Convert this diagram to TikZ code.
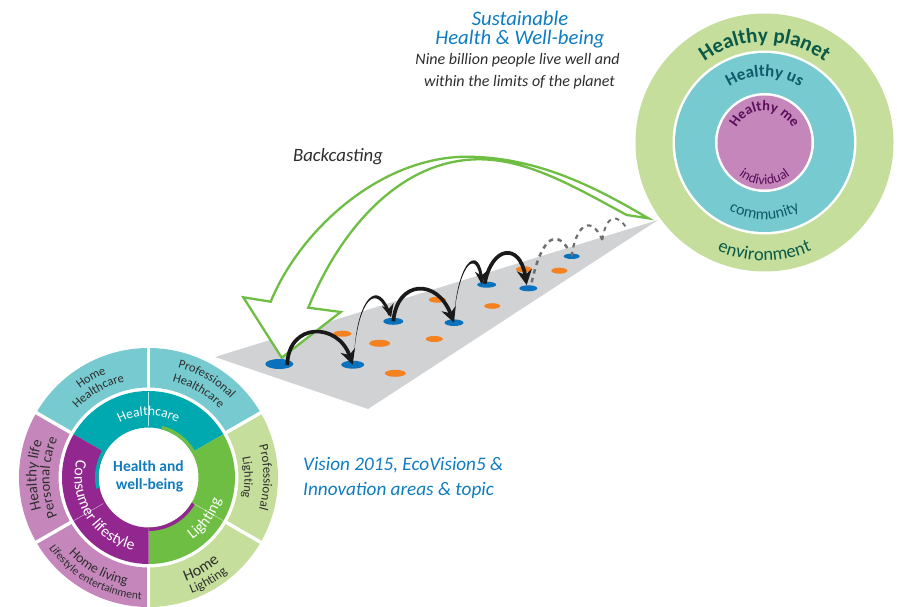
\documentclass[tikz,border=0pt]{standalone}
\usepackage{fontspec}
\setmainfont{Carlito}
\usetikzlibrary{decorations.text,arrows.meta,shapes.geometric}
\definecolor{ltteal}{HTML}{77CBD0}
\definecolor{midteal}{HTML}{00A9B0}
\definecolor{midgreen}{HTML}{6FBE44}
\definecolor{ltgreen}{HTML}{C5DE9B}
\definecolor{midpurple}{HTML}{92278F}
\definecolor{pinkish}{HTML}{C587BB}
\definecolor{bluedot}{HTML}{0A72BD}
\definecolor{orangedot}{HTML}{F58220}
\definecolor{plane}{HTML}{D1D2D4}
\definecolor{headblue}{HTML}{0F7CC0}
\definecolor{darktxt}{HTML}{2E2E2E}
\definecolor{dkgreen}{HTML}{0B5A48}
\definecolor{dkteal}{HTML}{0F5A68}
\definecolor{dkpurple}{HTML}{5A0F5A}
\definecolor{dashgrey}{HTML}{6D6E71}
\definecolor{jet}{HTML}{1A1A1A}
\newcommand\sector[6]{\fill[#6] ([shift={(#4:#3)}]#1) arc[start angle=#4,end angle=#5,radius=#3] -- ([shift={(#5:#2)}]#1) arc[start angle=#5,end angle=#4,radius=#2] -- cycle;}
\newcommand\arctxt[6]{\path[decorate,decoration={text along path,text align=center,text={|#5|#6}}] ([shift={(#3:#2)}]#1) arc[start angle=#3,end angle=#4,radius=#2];}
\newcommand\fsz[1]{\fontsize{#1}{#1}\selectfont}
\tikzset{
  x=1pt,y=1pt,
  bdot/.style={ellipse,fill=bluedot,inner sep=0pt},
  odot/.style={ellipse,fill=orangedot,inner sep=0pt},
  jump/.style={draw=jet,line width=3.7pt,-{Stealth[length=15pt,width=15pt]}},
  taper/.style={fill=jet},
  headonly/.style={draw=jet,line width=1.5pt,-{Stealth[length=13pt,width=12pt]}},
  dashjump/.style={draw=dashgrey,line width=2.5pt,dash pattern=on 4.5pt off 4.5pt},
  headtxt/.style={inner sep=0pt,text=headblue,font=\itshape\fsz{20.7}},
  sidetxt/.style={inner sep=0pt,text=darktxt,font=\itshape\fsz{16}},
  vistxt/.style={inner sep=0pt,text=headblue,anchor=west,font=\itshape\fsz{19.2}},
  gap/.style={draw=white,line width=3.4pt},
  fine/.style={draw=white,line width=0.4pt,opacity=0.7}
}
\begin{document}
\begin{tikzpicture}
\useasboundingbox (0,-607) rectangle (897,0);
% plane
\fill[plane] (215,-357) -- (368,-409) -- (658,-220) -- cycle;
% backcasting arrow
\draw[midgreen,line width=2.3pt,fill=white,line join=miter]
  (648.3,-218.3) .. controls (600,-190) and (540,-157) .. (466.7,-156.7)
  .. controls (380,-157) and (300,-230) .. (270.7,-301.7)
  -- (243.3,-297.3) -- (281.7,-357.7) -- (340.7,-312) -- (308.3,-307.7)
  .. controls (340,-230) and (400,-159) .. (480,-159.3)
  .. controls (530,-159.5) and (580,-190) .. (626.7,-215) -- cycle;
% orange dots
\node[odot,minimum width=18pt,minimum height=6pt] (o1) at (342.3,-333.7) {};
\node[odot,minimum width=21pt,minimum height=7pt] (o2) at (379.7,-343.3) {};
\node[odot,minimum width=21pt,minimum height=7pt] (o3) at (395.3,-373.3) {};
\node[odot,minimum width=17pt,minimum height=6pt] (o4) at (437.3,-299.7) {};
\node[odot,minimum width=17pt,minimum height=6pt] (o5) at (434.3,-339) {};
\node[odot,minimum width=16pt,minimum height=5.6pt] (o6) at (492.3,-306) {};
\node[odot,minimum width=16pt,minimum height=6pt] (o7) at (524,-269.3) {};
\node[odot,minimum width=16pt,minimum height=6pt] (o8) at (559.3,-270.7) {};
% blue dots
\node[bdot,minimum width=28pt,minimum height=10pt] (b1) at (279.3,-364) {};
\node[bdot,minimum width=23pt,minimum height=8pt] (b2) at (352.7,-364.7) {};
\node[bdot,minimum width=20pt,minimum height=7pt] (b3) at (393.3,-321.3) {};
\node[bdot,minimum width=19pt,minimum height=6.6pt] (b4) at (454,-322.7) {};
\node[bdot,minimum width=19pt,minimum height=6pt] (b5) at (486.7,-284.7) {};
\node[bdot,minimum width=18pt,minimum height=6pt] (b6) at (528.3,-288.3) {};
\node[bdot,minimum width=16pt,minimum height=5.4pt] (b7) at (571.7,-256.3) {};
\coordinate (e1) at (602.3,-240);
\coordinate (e2) at (627.3,-229.3);
% jumps
\draw[jump] ([shift={(8,-1)}]b1.center) .. controls (288,-322) and (338,-322) .. (b2.center);
\fill[taper] ([shift={(1.6,13)}]b2.center) .. controls (357.5,-299) and (378,-275.5) .. ([shift={(-2,6)}]b3.center)
  -- ([shift={(-5,6)}]b3.center) .. controls (376,-281) and (359,-301) .. ([shift={(1.6,13)}]b2.center) -- cycle;
\draw[headonly] ([shift={(-4,10.5)}]b3.center) -- ([shift={(-2.3,4)}]b3.center);
\draw[jump] (b3.center) .. controls (397,-280) and (437,-278) .. (b4.center);
\fill[taper] ([shift={(0.3,8.7)}]b4.center) .. controls (458.5,-259) and (479.5,-243.5) .. ([shift={(-3.5,4.5)}]b5.center)
  -- ([shift={(-6.5,4.5)}]b5.center) .. controls (477,-249) and (460,-262) .. ([shift={(0.3,8.7)}]b4.center) -- cycle;
\draw[headonly] ([shift={(-5.5,9.5)}]b5.center) -- ([shift={(-5,0.3)}]b5.center);
\draw[jump] ([shift={(-2,1)}]b5.center) .. controls (492,-245) and (520,-243) .. ([shift={(-1.6,3.3)}]b6.center);
% dashed jumps
\draw[dashjump] ([shift={(3.4,6)}]b6.center) .. controls (541,-240) and (555,-228) .. ([shift={(-3.4,7)}]b7.center);
\draw[dashjump,line width=2.2pt] (b7.center) .. controls (575,-228) and (590,-212) .. (e1);
\draw[dashjump,line width=1.9pt] (e1) .. controls (606,-215) and (617,-212) .. (e2);
% right circles
\coordinate (R) at (764.5,-142.5);
\fill[ltgreen] (R) circle[radius=129];
\fill[white] (R) circle[radius=92];
\fill[ltteal] (R) circle[radius=89.5];
\fill[white] (R) circle[radius=49.5];
\fill[pinkish] (R) circle[radius=47];
\arctxt{R}{100.5}{170}{10}{\fsz{21}\bfseries\color{dkgreen}}{Healthy planet}
\arctxt{R}{66}{170}{10}{\fsz{17}\bfseries\color{dkteal}}{Healthy us}
\arctxt{R}{31.5}{178}{2}{\fsz{14.5}\bfseries\color{dkpurple}}{Healthy me}
\arctxt{R}{42}{190}{350}{\fsz{14}\color{dkpurple}}{individual}
\arctxt{R}{77}{190}{350}{\fsz{16}\color{dkteal}}{community}
\arctxt{R}{118}{200}{340}{\fsz{18.5}\color{dkgreen}}{environment}
% wheel
\coordinate (W) at (148.5,-477.5);
\sector{W}{90}{129.5}{30}{90}{ltteal}
\sector{W}{90}{129.5}{90}{150}{ltteal}
\sector{W}{90}{129.5}{150}{210}{pinkish}
\sector{W}{90}{129.5}{210}{270}{pinkish}
\sector{W}{90}{129.5}{270}{330}{ltgreen}
\sector{W}{90}{129.5}{330}{390}{ltgreen}
\sector{W}{50}{86.5}{30}{150}{midteal}
\sector{W}{50}{86.5}{-90}{30}{midgreen}
\sector{W}{50}{86.5}{150}{270}{midpurple}
\sector{W}{50}{53.5}{30}{75}{midgreen}
\sector{W}{50}{53.5}{150}{192}{midteal}
\sector{W}{50}{53.5}{270}{330}{midpurple}
\foreach \a in {30,90,150,210,270,330}{\draw[gap] ([shift={(\a:88)}]W) -- ([shift={(\a:131)}]W);}
\foreach \a in {90,-30,210}{\draw[fine] ([shift={(\a:52)}]W) -- ([shift={(\a:86)}]W);}
\node[inner sep=0pt,text=headblue,align=center,font=\bfseries\fsz{15.5},text height=11pt,text depth=3pt] (center1) at (148.5,-467) {Health and};
\node[inner sep=0pt,text=headblue,align=center,font=\bfseries\fsz{15.5},text height=11pt,text depth=3pt] (center2) at (149.5,-485) {well-being};
% middle ring
\arctxt{W}{62}{150}{30}{\fsz{13.5}\color{white}}{Healthcare}
\arctxt{W}{74}{122}{302}{\fsz{15.8}\color{white}}{Consumer lifestyle}
\arctxt{W}{76}{-96}{24}{\fsz{15.5}\color{white}}{Lighting}
% outer ring
\arctxt{W}{112}{170}{70}{\fsz{12.5}\color{darktxt}}{Home}
\arctxt{W}{99}{170}{70}{\fsz{12.5}\color{darktxt}}{Healthcare}
\arctxt{W}{114}{110}{9}{\fsz{12.5}\color{darktxt}}{Professional}
\arctxt{W}{99}{110}{10}{\fsz{12.5}\color{darktxt}}{Healthcare}
\arctxt{W}{115}{50}{-50}{\fsz{13}\color{darktxt}}{Professional}
\arctxt{W}{96}{50}{-50}{\fsz{12.5}\color{darktxt}}{Lighting}
\arctxt{W}{110}{-110}{-10}{\fsz{16}\color{darktxt}}{Home}
\arctxt{W}{124}{-110}{-10}{\fsz{13}\color{darktxt}}{Lighting}
\arctxt{W}{112}{229}{129}{\fsz{15}\color{darktxt}}{Healthy life}
\arctxt{W}{99}{230}{130}{\fsz{14.5}\color{darktxt}}{Personal care}
\arctxt{W}{110}{191}{291}{\fsz{14}\color{darktxt}}{Home living}
\arctxt{W}{122}{191}{291}{\fsz{11.5}\color{darktxt}}{Lifestyle entertainment}
% captions
\node[headtxt] (h1) at (520,-18) {Sustainable};
\node[headtxt] (h2) at (520,-39) {Health \& Well-being};
\node[sidetxt] (s1) at (517.5,-60.5) {Nine billion people live well and};
\node[sidetxt] (s2) at (519.5,-82) {within the limits of the planet};
\node[inner sep=0pt,text=darktxt,font=\itshape\fsz{18.8}] (back) at (338,-157) {Backcasting};
\node[vistxt] (v1) at (303,-465) {Vision 2015, EcoVision5 \&};
\node[vistxt] (v2) at (303,-490) {Innovation areas \& topic};
\end{tikzpicture}
\end{document}
